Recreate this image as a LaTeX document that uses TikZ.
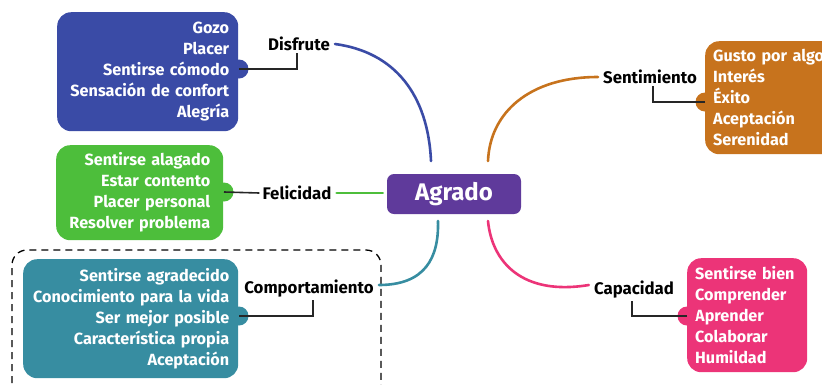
\documentclass[tikz,border=0pt]{standalone}
\usepackage{fontspec}
\setmainfont{Fira Sans}
\usetikzlibrary{positioning, calc}

\definecolor{disfruteC}{HTML}{3A4BA6}
\definecolor{felicidadC}{HTML}{4DBE3B}
\definecolor{comportC}{HTML}{378DA1}
\definecolor{sentimC}{HTML}{C7731D}
\definecolor{capacC}{HTML}{EC3478}
\definecolor{agradoC}{HTML}{5F3A9B}

\tikzset{
  itembox/.style={rounded corners=14pt, text=white, anchor=north west, inner ysep=0pt,
    font=\bfseries\fontsize{16.2}{21}\selectfont},
  tab/.style={circle, inner sep=0pt, minimum size=19pt},
  topic/.style={font=\bfseries\fontsize{16.8}{18}\selectfont, inner sep=1pt},
  link/.style={line width=1.6pt, black!85},
  branch/.style={line width=2.6pt, line cap=round}
}

\begin{document}
\begin{tikzpicture}[x=1pt, y=-1pt]
        \useasboundingbox (0,0) rectangle (822,384);

        % central node
        \node[fill=agradoC, rounded corners=7pt, text=white, minimum width=134pt, minimum height=40pt,
          font=\bfseries\fontsize{24}{28}\selectfont] (agrado) at (454,194) {Agrado};

        % boxes
        \node[itembox, fill=disfruteC, minimum height=119pt, text width=163pt, inner xsep=9pt, align=right]
          (disfruteBox) at (57,12) {Gozo\\Placer\\Sentirse cómodo\\Sensación de confort\\Alegría};
        \node[itembox, fill=felicidadC, minimum height=95pt, text width=141pt, inner xsep=13pt, align=right]
          (felicidadBox) at (56,145) {Sentirse alagado\\Estar contento\\Placer personal\\Resolver problema};
        \node[itembox, fill=comportC, minimum height=119pt, text width=197pt, inner xsep=9pt, align=right]
          (comportBox) at (23,259) {Sentirse agradecido\\Conocimiento para la vida\\Ser mejor posible\\Característica propia\\Aceptación};
        \node[itembox, fill=sentimC, minimum height=113pt, text width=140pt, inner xsep=8pt, align=left]
          (sentimBox) at (705,41) {Gusto por algo\\Interés\\Éxito\\Aceptación\\Serenidad};
        \node[itembox, fill=capacC, minimum height=114pt, text width=104pt, inner xsep=8pt, align=left]
          (capacBox) at (687,258) {Sentirse bien\\Comprender\\Aprender\\Colaborar\\Humildad};

        \draw[dashed, dash pattern=on 7pt off 5pt, line width=1.3pt, rounded corners=15pt]
          (12,395) -- (12,250) -- (381,250) -- (381,395);

        % tabs
        \node[tab, fill=disfruteC] (disfruteTab) at (239,69) {};
        \node[tab, fill=felicidadC] (felicidadTab) at (224,192) {};
        \node[tab, fill=comportC] (comportTab) at (239,316) {};
        \node[tab, fill=sentimC] (sentimTab) at (705,102) {};
        \node[tab, fill=capacC] (capacTab) at (687,316) {};

        % labels
        \node[topic] (disfrute) at (299,44) {Disfrute};
        \node[topic] (felicidad) at (297,193) {Felicidad};
        \node[topic] (comport) at (309,289) {Comportamiento};
        \node[topic] (sentim) at (650,77) {Sentimiento};
        \node[topic] (capac) at (634,290) {Capacidad};

        \draw[link] (disfruteTab.center) -| ([xshift=-2pt, yshift=-1pt]disfrute.south);
        \draw[link] (felicidadTab.center) -- ([xshift=-2pt]felicidad.west);
        \draw[link] (comportTab.center) -| ([xshift=4pt, yshift=-1pt]comport.south);
        \draw[link] (sentimTab.center) -| ([xshift=3pt, yshift=-1pt]sentim.south);
        \draw[link] (capacTab.center) -| ([xshift=-2pt, yshift=-1pt]capac.south);

        % branches
        \coordinate (endB) at (431,161);
        \coordinate (endT) at (438,221);
        \coordinate (endO) at (488,161);
        \coordinate (endP) at (488,221);

        \draw[branch, disfruteC] ([xshift=4pt]disfrute.east) .. controls (395,52) and (428,95) .. (endB);
        \draw[branch, felicidadC] ([xshift=4pt]felicidad.east) -- ([xshift=-4pt]felicidad.east -| agrado.west);
        \draw[branch, comportC] ([xshift=4pt, yshift=4pt]comport.east) .. controls (425,285) and (439,258) .. (endT);
        \draw[branch, sentimC] ([xshift=-4pt]sentim.west) .. controls (530,77) and (490,112) .. (endO);
        \draw[branch, capacC] ([xshift=-4pt, yshift=5pt]capac.west) .. controls (522,296) and (492,262) .. (endP);

      \end{tikzpicture}
\end{document}
